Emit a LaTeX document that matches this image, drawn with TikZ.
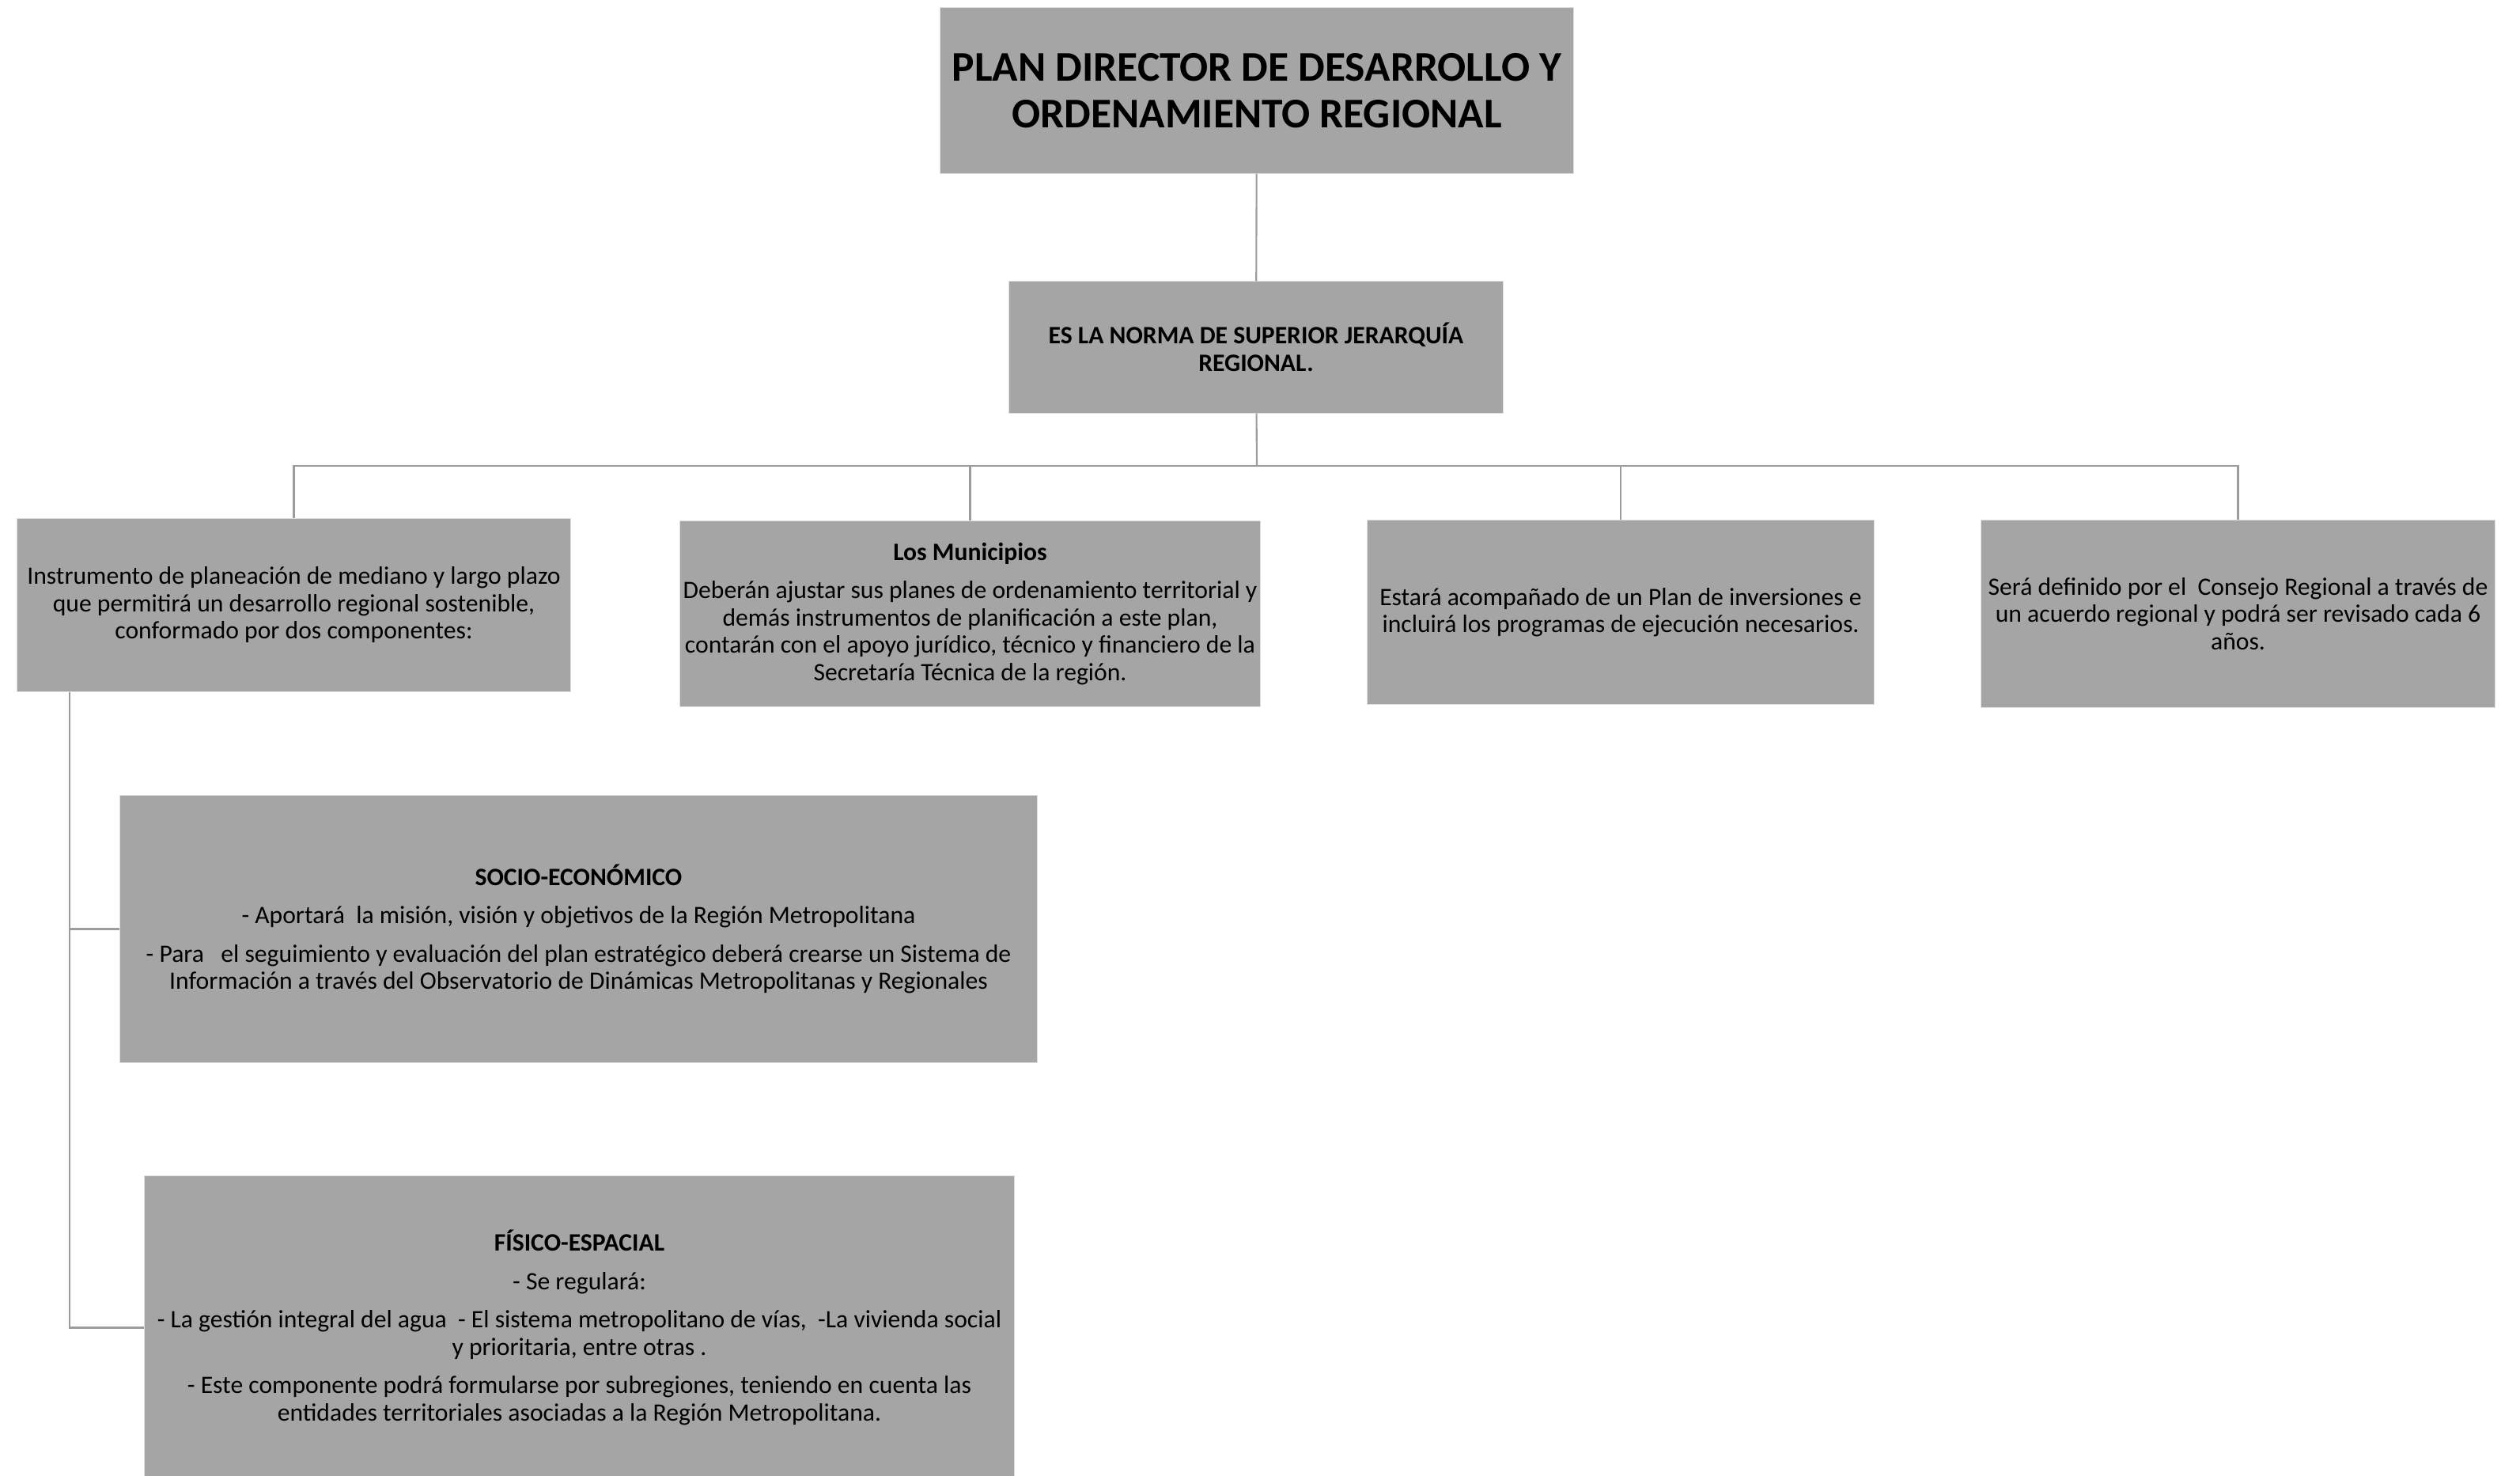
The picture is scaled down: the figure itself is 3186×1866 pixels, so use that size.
\documentclass[tikz,border=0pt]{standalone}
\usepackage{fontspec}
\setmainfont{Carlito}
\definecolor{boxgray}{HTML}{A5A5A5}
\definecolor{linegray}{HTML}{9C9C9C}
\begin{document}
\begin{tikzpicture}[x=0.01cm,y=-0.01cm,
        box/.style={rectangle,fill=boxgray,draw=gray!25,line width=0.3pt,
            align=center,inner sep=0pt,font=\fontsize{9}{9.8}\selectfont},
        link/.style={draw=linegray,line width=0.6pt}]
    \useasboundingbox (0,0) rectangle (3186,1866);
    \node[box,minimum width=8cm,minimum height=2.09cm,
        font=\fontsize{15.2}{16.8}\selectfont\bfseries] (plan) at (1589,114.5)
        {PLAN DIRECTOR DE DESARROLLO Y\\ORDENAMIENTO REGIONAL};
    \node[box,minimum width=6.24cm,minimum height=1.66cm,font=\fontsize{9}{9.8}\selectfont\bfseries]
        (norma) at (1588,439) {ES LA NORMA DE SUPERIOR JERARQUÍA\\REGIONAL.};
    \coordinate (bus) at (1589,589);
    \node[box,minimum width=6.99cm,minimum height=2.18cm] (instr) at (371.5,765)
        {Instrumento de planeación de mediano y largo plazo\\que permitirá un desarrollo regional sostenible,\\conformado por dos componentes:};
    \node[box,minimum width=7.33cm,minimum height=2.34cm] (munic) at (1226.5,776)
        {\textbf{Los Municipios}\\[4pt]Deberán ajustar sus planes de ordenamiento territorial y\\demás instrumentos de planificación a este plan,\\contarán con el apoyo jurídico, técnico y financiero de la\\Secretaría Técnica de la región.};
    \node[box,minimum width=6.40cm,minimum height=2.32cm] (inver) at (2049,774)
        {Estará acompañado de un Plan de inversiones e\\incluirá los programas de ejecución necesarios.};
    \node[box,minimum width=6.49cm,minimum height=2.36cm] (consejo) at (2829.5,776)
        {Será definido por el\ \ Consejo Regional a través de\\un acuerdo regional y podrá ser revisado cada 6\\años.};
    \node[box,minimum width=11.59cm,minimum height=3.37cm] (socio) at (731.5,1174.5)
        {\textbf{SOCIO-ECONÓMICO}\\[4pt]- Aportará\ \ la misión, visión y objetivos de la Región Metropolitana\\[4pt]- Para\ \ \ el seguimiento y evaluación del plan estratégico deberá crearse un Sistema de\\Información a través del Observatorio de Dinámicas Metropolitanas y Regionales};
    \node[box,minimum width=10.99cm,minimum height=3.83cm] (fisico) at (732.5,1678.5)
        {\textbf{FÍSICO-ESPACIAL}\\[4pt]- Se regulará:\\[4pt]- La gestión integral del agua\ \ - El sistema metropolitano de vías,\ \ -La vivienda social\\y prioritaria, entre otras .\\[4pt]- Este componente podrá formularse por subregiones, teniendo en cuenta las\\entidades territoriales asociadas a la Región Metropolitana.};
    \draw[link] (plan) -- (norma);
    \draw[link] (norma) -- (bus);
    \draw[link] (bus) -| (instr);
    \draw[link] (bus) -| (munic);
    \draw[link] (bus) -| (inver);
    \draw[link] (bus) -| (consejo);
    \draw[link] ([xshift=0.67cm]instr.south west) |- (socio.west);
    \draw[link] ([xshift=0.67cm]instr.south west) |- (fisico.west);
\end{tikzpicture}
\end{document}
